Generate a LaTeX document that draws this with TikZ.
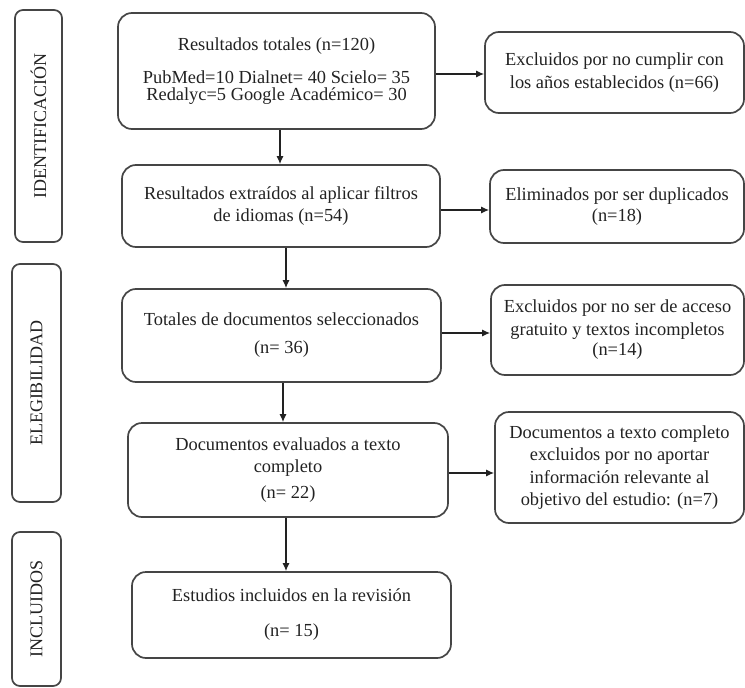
\documentclass[tikz,border=0pt]{standalone}
\usepackage{fontspec}
\setmainfont{Liberation Serif}
\usetikzlibrary{arrows.meta,calc}
\definecolor{edge}{HTML}{454545}
\definecolor{ink}{HTML}{222222}
\tikzset{
  box/.style={draw=edge, line width=1.7pt, rounded corners=14pt, inner sep=0pt,
    align=center, text=ink, font=\fontsize{18.4}{22.5}\selectfont},
  sidebox/.style={draw=edge, line width=1.7pt, rounded corners=8pt, inner sep=0pt},
  sidelabel/.style={rotate=90, text=ink, font=\fontsize{18}{21}\selectfont},
  flow/.style={draw=ink, line width=1.3pt, -{Latex[length=8pt,width=7pt]}}
}
\begin{document}
\begin{tikzpicture}[x=1pt,y=-1pt]
\useasboundingbox (0,0) rectangle (745,688);
% side boxes
\node[sidebox, minimum width=47pt, minimum height=232pt] (l1) at (38.5,126) {};
\node[sidelabel] (t1) at (l1.center) {IDENTIFICACIÓN};
\node[sidebox, minimum width=49pt, minimum height=238pt] (l2) at (36.5,383) {};
\node[sidelabel] (t2) at (l2.center) {ELEGIBILIDAD};
\node[sidebox, minimum width=49pt, minimum height=154pt] (l3) at (36.5,609) {};
\node[sidelabel] (t3) at (l3.center) {INCLUIDOS};
% main column
\node[box, minimum width=317pt, minimum height=116pt] (b1) at (276.5,71)
  {Resultados totales (n=120)\\[10.5pt]PubMed=10 Dialnet= 40 Scielo= 35\\[-5.5pt]Redalyc=5 Google Académico= 30};
\node[box, minimum width=318pt, minimum height=82pt] (b2) at (281,206)
  {Resultados extraídos al aplicar filtros\\[-1pt]de idiomas (n=54)};
\node[box, minimum width=319pt, minimum height=93pt] (b3) at (281.5,335.5)
  {Totales de documentos seleccionados\\[5.5pt](n= 36)};
\node[box, minimum width=320pt, minimum height=94pt] (b4) at (288,470)
  {Documentos evaluados a texto\\[-0.5pt]completo\\[3.5pt](n= 22)};
\node[box, minimum width=319pt, minimum height=86pt] (b5) at (291.5,615)
  {Estudios incluidos en la revisión\\[12.5pt](n= 15)};
% right column
\node[box, minimum width=259pt, minimum height=81pt] (r1) at (614.5,72.5)
  {Excluidos por no cumplir con\\los años establecidos (n=66)};
\node[box, minimum width=254pt, minimum height=73pt] (r2) at (617,206.5)
  {Eliminados por ser duplicados\\[-1pt](n=18)};
\node[box, minimum width=253pt, minimum height=90pt] (r3) at (617.5,330)
  {Excluidos por no ser de acceso\\gratuito y textos incompletos\\[-2pt](n=14)};
\node[box, minimum width=249pt, minimum height=111pt] (r4) at (619.5,467.5)
  {Documentos a texto completo\\excluidos por no aportar\\información relevante al\\objetivo del estudio: (n=7)};
% vertical arrows
\draw[flow] (b1.south -| 280,0) -- (b2.north -| 280,0);
\draw[flow] (b2.south -| 286,0) -- (b3.north -| 286,0);
\draw[flow] (b3.south -| 283,0) -- (b4.north -| 283,0);
\draw[flow] (b4.south -| 286,0) -- (b5.north -| 286,0);
% horizontal arrows
\draw[flow] (b1.east |- 0,74) -- (r1.west |- 0,74);
\draw[flow] (b2.east |- 0,210) -- (r2.west |- 0,210);
\draw[flow] (b3.east |- 0,333) -- (r3.west |- 0,333);
\draw[flow] (b4.east |- 0,473) -- (r4.west |- 0,473);
\end{tikzpicture}
\end{document}
